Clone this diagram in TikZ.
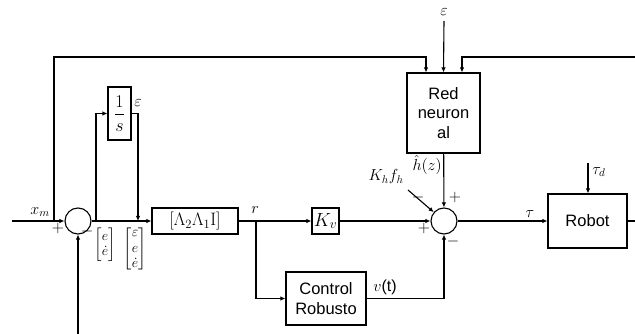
\RequirePackage{fix-cm}
\documentclass[tikz,border=0pt]{standalone}
\usepackage{amsmath,amssymb}
\usepackage{fontspec}
\newfontfamily\boxfont{Liberation Sans}
\usetikzlibrary{arrows.meta}

\begin{document}
\begin{tikzpicture}[x=1pt, y=-1pt,
  box/.style={rectangle, draw=black, line width=1.1pt, inner sep=0pt, align=center, font=\boxfont\fontsize{16.5}{19.5}\selectfont},
  sum/.style={circle, draw=black, line width=1.1pt, minimum size=26pt, inner sep=0pt},
  lbl/.style={inner sep=0pt, font=\fontsize{16}{18}\selectfont},
  vec/.style={inner sep=0pt, font=\fontsize{14}{15.5}\selectfont\setlength\arraycolsep{1.5pt}},
  arr/.style={-{Latex[length=5pt,width=4.5pt]}, line width=1.1pt}]
\clip (0,0) rectangle (635,334);
% blocks
\node[sum] (s1) at (78,221) {};
\node[box, minimum width=23pt, minimum height=53pt, font=\fontsize{18}{20}\selectfont] (int) at (119.5,113.5) {$\dfrac{1}{s}$};
\node[box, minimum width=86pt, minimum height=26pt, font=\fontsize{18}{20}\selectfont] (lam) at (195,221) {$[\Lambda_2\Lambda_1\mathrm{I}]$};
\node[box, minimum width=27pt, minimum height=26pt, font=\fontsize{19}{21}\selectfont] (kv) at (325.5,221) {$K_v$};
\node[box, minimum width=73pt, minimum height=80pt] (red) at (443.5,113) {Red\\neuron\\al};
\node[sum] (s2) at (444,221) {};
\node[box, minimum width=80pt, minimum height=53pt] (cr) at (326,298.5) {Control\\Robusto};
\node[box, minimum width=79pt, minimum height=54pt] (robot) at (587.5,221) {Robot};
% branch points and loose ends
\coordinate (in) at (12,221);
\coordinate (j1) at (54,221);
\coordinate (j2) at (96,221);
\coordinate (j3) at (138,221);
\coordinate (j4) at (256,221);
\coordinate (top) at (54,57);
\coordinate (redL) at ([xshift=-17.5pt]red.north);
\coordinate (redR) at ([xshift=18.5pt]red.north);
\coordinate (fbR) at (640,57);
\coordinate (eps) at (444,21);
\coordinate (khf) at (408,190);
\coordinate (taud) at (588,163);
\coordinate (out) at (645,221);
\coordinate (fbB) at (78,340);
% connectors
\draw[arr] (in) -- (s1);
\draw[arr] (j1) -- (top) -| (redL);
\draw[arr] (fbR) -| (redR);
\draw[arr] (eps) -- (red.north);
\draw[arr] (s1) -- (lam);
\draw[arr] (j2) |- (int);
\draw[arr] (int) -| (j3);
\draw[arr] (j4) |- (cr);
\foreach \a/\b in {lam/kv,kv/s2,s2/robot,red/s2} \draw[arr] (\a) -- (\b);
\draw[arr] (cr) -| (s2);
\draw[arr] (khf) -- (s2);
\draw[arr] (taud) -- (taud |- robot.north);
\draw[arr] (robot) -- (out);
\draw[arr] (fbB) -- (s1);
% labels
\node[lbl] (lxm) at (40,212) {$x_m$};
\node[lbl] (lp1) at (58,229) {$+$};
\node[lbl] (lm1) at (87,232) {$-$};
\node[lbl] (leps1) at (138,103) {$\varepsilon$};
\node[vec] (le) at (105,245) {$\begin{bmatrix} e\\ \dot e\end{bmatrix}$};
\node[vec] (lee) at (135,249) {$\begin{bmatrix} \varepsilon\\ e\\ \dot e\end{bmatrix}$};
\node[lbl] (lr) at (255,210) {$r$};
\node[lbl] (leps2) at (444,12) {$\varepsilon$};
\node[lbl, anchor=north east] (lh) at (442,155) {$\hat h(z)$};
\node[lbl] (lkh) at (386,177) {$K_h f_h$};
\node[lbl] (lp2) at (455,197) {$+$};
\node[lbl] (lm2) at (418,198) {$-$};
\node[lbl] (lp3) at (424,229) {$+$};
\node[lbl] (lm3) at (453,241) {$-$};
\node[lbl] (lv) at (385,287) {$v$\boxfont(t)};
\node[lbl] (ltau) at (530,214) {$\tau$};
\node[lbl] (ltaud) at (599,172) {$\tau_d$};
\node[lbl] (lx) at (640,213) {$x$};
\end{tikzpicture}
\end{document}
